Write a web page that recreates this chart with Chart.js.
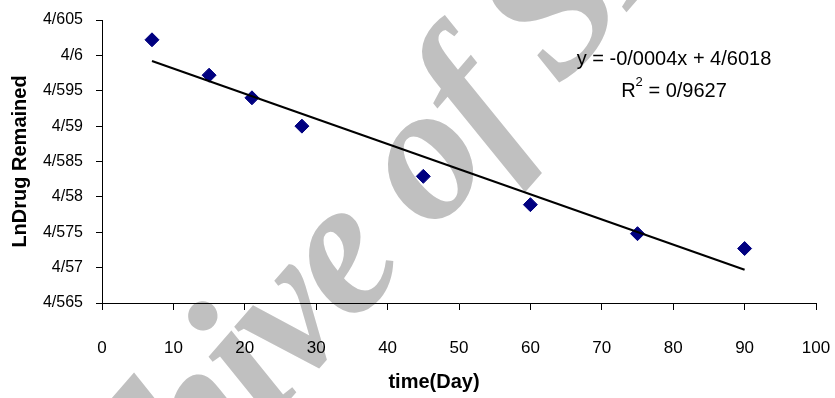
<!DOCTYPE html>
<html><head><meta charset="utf-8">
<script src="https://cdn.jsdelivr.net/npm/chart.js@4/dist/chart.umd.min.js"></script>
<style>html,body{margin:0;padding:0;background:#fff;}#wrap{width:835px;height:398px;position:relative;}</style>
</head><body><div id="wrap"><canvas id="c" width="835" height="398"></canvas></div>
<script>
// ---- data ----
const days = [7, 15, 21, 28, 45, 60, 75, 90];
const lnDrug = [4.6022, 4.5972, 4.5940, 4.5900, 4.5829, 4.5789, 4.5748, 4.5727];
const trendDays = [7, 90];
const trendLn = [4.5992, 4.5697];
const xTickValues = [0, 10, 20, 30, 40, 50, 60, 70, 80, 90, 100];
const xTickLabels = ['0', '10', '20', '30', '40', '50', '60', '70', '80', '90', '100'];
const yTickValues = [4.565, 4.57, 4.575, 4.58, 4.585, 4.59, 4.595, 4.6, 4.605];
const yTickLabels = ['4/565', '4/57', '4/575', '4/58', '4/585', '4/59', '4/595', '4/6', '4/605'];
const xTitle = 'time(Day)';
const yTitle = 'LnDrug Remained';
const equationText = 'y = -0/0004x + 4/6018';
const r2Value = '0/9627';
const watermarkText = 'Archive of SID';

const watermark = {
  id: 'watermark',
  beforeDraw(chart) {
    const ctx = chart.ctx;
    ctx.save();
    const fs = 195;
    ctx.font = 'italic bold ' + fs + 'px "Liberation Serif", "DejaVu Serif", serif';
    if ('letterSpacing' in ctx) ctx.letterSpacing = '-6px';
    ctx.fillStyle = '#c0c0c0';
    const pre = ctx.measureText('Archive ').width;
    const ow = ctx.measureText('o').width;
    ctx.translate(430, 170);
    ctx.rotate(-49 * Math.PI / 180);
    ctx.textBaseline = 'alphabetic';
    ctx.textAlign = 'left';
    ctx.fillText(watermarkText, -(pre + ow / 2), 0.23 * fs);
    ctx.restore();
  }
};

const annotations = {
  id: 'annotations',
  afterDraw(chart) {
    const ctx = chart.ctx;
    ctx.save();
    ctx.fillStyle = '#000';
    ctx.textBaseline = 'alphabetic';
    ctx.font = '20px "Liberation Sans", Arial, sans-serif';
    ctx.textAlign = 'center';
    ctx.fillText(equationText, 674, 65);
    ctx.textAlign = 'left';
    const rW = ctx.measureText('R').width;
    const restTxt = ' = ' + r2Value;
    const restW = ctx.measureText(restTxt).width;
    ctx.font = '13px "Liberation Sans", Arial, sans-serif';
    const supW = ctx.measureText('2').width;
    const total = rW + supW + restW;
    const x0 = 674 - total / 2;
    ctx.font = '20px "Liberation Sans", Arial, sans-serif';
    ctx.fillText('R', x0, 97);
    ctx.font = '13px "Liberation Sans", Arial, sans-serif';
    ctx.fillText('2', x0 + rW, 86);
    ctx.font = '20px "Liberation Sans", Arial, sans-serif';
    ctx.fillText(restTxt, x0 + rW + supW, 97);
    ctx.font = 'bold 20px "Liberation Sans", Arial, sans-serif';
    ctx.textAlign = 'center';
    ctx.fillText(xTitle, 434, 388);
    ctx.restore();
  }
};

new Chart(document.getElementById('c'), {
  type: 'scatter',
  data: {
    datasets: [
      {
        type: 'line',
        data: trendDays.map((d, i) => ({x: d, y: trendLn[i]})),
        borderColor: '#000',
        borderWidth: 2,
        pointRadius: 0,
        fill: false,
        tension: 0
      },
      {
        type: 'scatter',
        data: days.map((d, i) => ({x: d, y: lnDrug[i]})),
        pointStyle: 'rectRot',
        pointRadius: 7,
        backgroundColor: '#000080',
        borderColor: '#000080',
        borderWidth: 1
      }
    ]
  },
  options: {
    responsive: false,
    animation: false,
    devicePixelRatio: 1,
    layout: { padding: { left: 0, right: 19, top: 20, bottom: 0 } },
    plugins: { legend: { display: false }, tooltip: { enabled: false } },
    scales: {
      x: {
        type: 'linear',
        min: 0, max: 100,
        afterBuildTicks: s => { s.ticks = xTickValues.map(v => ({value: v})); },
        afterFit: s => { s.height = 95; s.paddingLeft = 0; s.paddingRight = 0; },
        border: { display: true, color: '#000', width: 1 },
        grid: { drawOnChartArea: false, drawTicks: true, tickLength: 7, color: '#000' },
        ticks: {
          callback: (v, i) => xTickLabels[i],
          padding: 28,
          color: '#000',
          maxRotation: 0,
          font: { family: '"Liberation Sans", Arial, sans-serif', size: 17 }
        },
        title: { display: false }
      },
      y: {
        type: 'linear',
        min: 4.565, max: 4.605,
        afterBuildTicks: s => { s.ticks = yTickValues.map(v => ({value: v})); },
        afterFit: s => { s.width = 102; s.paddingTop = 0; s.paddingBottom = 0; },
        border: { display: true, color: '#000', width: 1 },
        grid: { drawOnChartArea: false, drawTicks: true, tickLength: 6, color: '#000' },
        ticks: {
          callback: (v, i) => yTickLabels[i],
          padding: 13,
          color: '#000',
          font: { family: '"Liberation Sans", Arial, sans-serif', size: 16 }
        },
        title: {
          display: true,
          text: yTitle,
          color: '#000',
          padding: { top: 8, bottom: 0 },
          font: { family: '"Liberation Sans", Arial, sans-serif', size: 20, weight: 'bold' }
        }
      }
    }
  },
  plugins: [watermark, annotations]
});
</script>
</body></html>
